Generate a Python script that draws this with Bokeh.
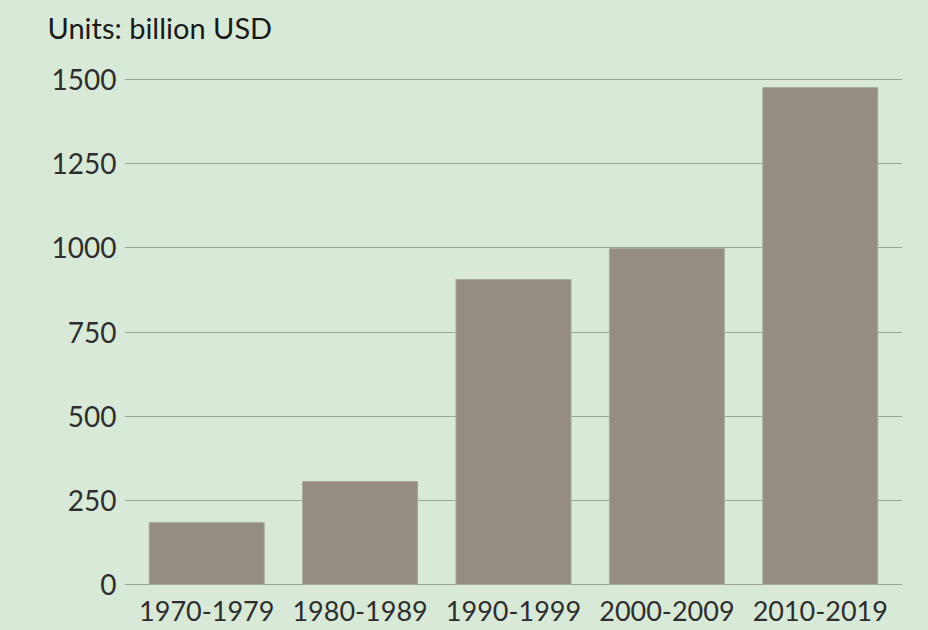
from bokeh.plotting import figure
from bokeh.models import FactorRange, Range1d, FixedTicker, Title
from bokeh.embed import file_html
from bokeh.resources import INLINE

decades = ["1970-1979", "1980-1989", "1990-1999", "2000-2009", "2010-2019"]
values = [184, 306, 906, 998, 1476]
y_ticks = [0, 250, 500, 750, 1000, 1250, 1500]

BG = "#d8ead7"
FONT = "Lato"

p = figure(
    x_range=FactorRange(*decades, range_padding=0.036, range_padding_units="absolute"),
    y_range=Range1d(-3, 1503),
    width=928, height=630,
    output_backend="svg", toolbar_location=None,
    min_border_left=124, min_border_right=26, min_border_top=78, min_border_bottom=45,
)
p.background_fill_color = BG
p.border_fill_color = BG
p.outline_line_color = None

# spacer between the heading and the plot frame
p.add_layout(Title(text=" ", text_font_size="2px", standoff=30, text_color=BG), "above")
p.title = Title(text="Units: billion USD", align="left", offset=-77, standoff=0,
                text_font=FONT, text_font_size="29px", text_font_style="normal",
                text_color="#1a1a1a")

p.vbar(x=decades, top=values, width=0.75, fill_color="#958d84", line_color="#a9ab9f", line_width=1)

p.xgrid.grid_line_color = None
p.ygrid.grid_line_color = "#9aa69a"
p.ygrid.grid_line_width = 1.2
p.yaxis.ticker = FixedTicker(ticks=y_ticks)

for ax in (p.xaxis, p.yaxis):
    ax.axis_line_color = None
    ax.major_tick_line_color = None
    ax.minor_tick_line_color = None
    ax.major_label_text_font = FONT
    ax.major_label_text_color = "#2e2e2e"
p.yaxis.major_label_text_font_size = "28px"
p.xaxis.major_label_text_font_size = "27px"
p.yaxis.major_label_standoff = 2
p.xaxis.major_label_standoff = 9

html = file_html(p, INLINE)
html = html.replace("<head>", "<head><style>html,body{background:%s;}</style>" % BG, 1)
open("out.html", "w").write(html)
